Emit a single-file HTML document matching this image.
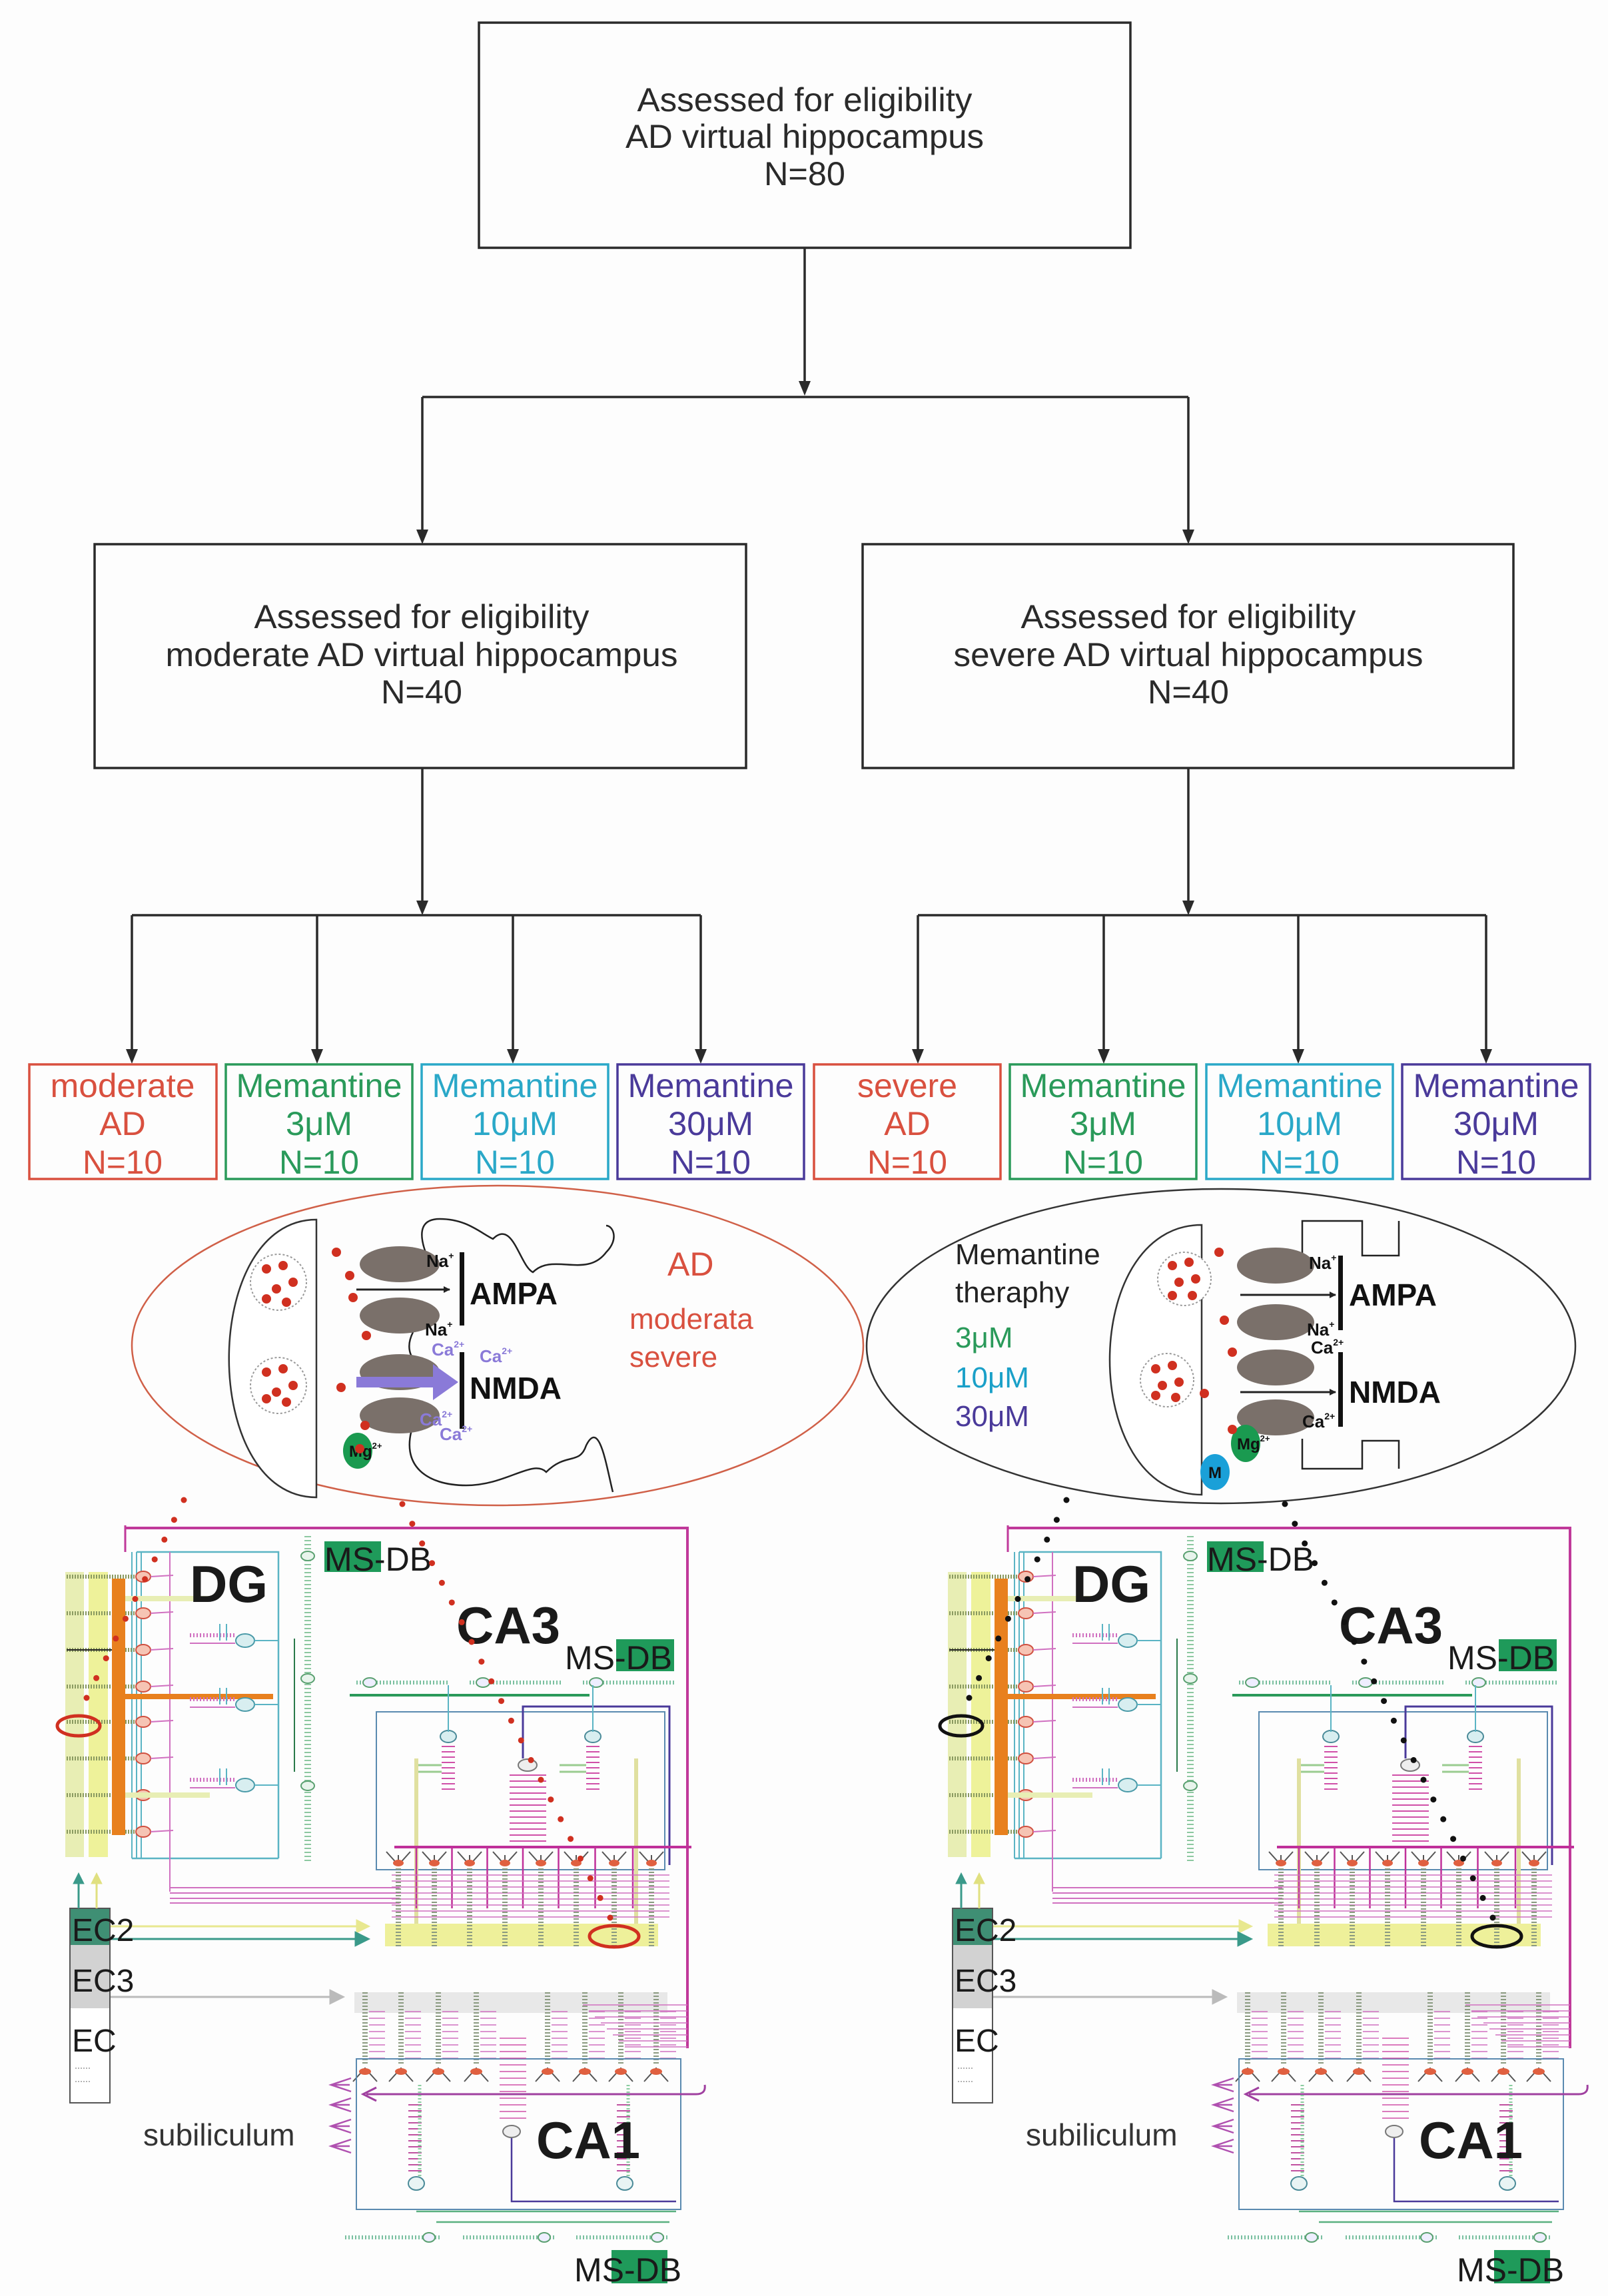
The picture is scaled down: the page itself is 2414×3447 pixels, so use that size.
<!DOCTYPE html>
<html><head><meta charset="utf-8"><style>
html,body{margin:0;padding:0;background:#fdfdfd;}
svg{display:block;}
.ff{font-family:"Liberation Sans",Arial,sans-serif;}
</style></head><body>
<svg id="s" width="2414" height="3447" viewBox="0 0 2414 3447" xmlns="http://www.w3.org/2000/svg" class="ff">
<rect width="2414" height="3447" fill="#fdfdfd"/>
<defs>
<marker id="ah" markerWidth="10" markerHeight="10" refX="9" refY="5" orient="auto" markerUnits="userSpaceOnUse"><path d="M0,0 L10,5 L0,10 Z" fill="#222"/></marker>
</defs>
<g id="flow" stroke="#2a2a2a" stroke-width="3.5" fill="none">
<rect x="719" y="34" width="978" height="338"/>
<rect x="142" y="817" width="978" height="336"/>
<rect x="1295" y="817" width="977" height="336"/>
<path d="M1208,372 V580 M634,596 H1784 M634,596 V800 M1784,596 V800 M634,1153 V1362 M1784,1153 V1362 M198,1374 H1052 M1378,1374 H2231 M198,1374 V1582 M476,1374 V1582 M770,1374 V1582 M1052,1374 V1582 M1378,1374 V1582 M1657,1374 V1582 M1949,1374 V1582 M2231,1374 V1582"/>
</g>
<g fill="#2a2a2a">
<path d="M1199,572 L1217,572 L1208,594 Z"/>
<path d="M625,795 L643,795 L634,817 Z"/><path d="M1775,795 L1793,795 L1784,817 Z"/>
<path d="M625,1352 L643,1352 L634,1374 Z"/><path d="M1775,1352 L1793,1352 L1784,1374 Z"/>
<path d="M189,1575 L207,1575 L198,1597 Z"/><path d="M467,1575 L485,1575 L476,1597 Z"/><path d="M761,1575 L779,1575 L770,1597 Z"/><path d="M1043,1575 L1061,1575 L1052,1597 Z"/>
<path d="M1369,1575 L1387,1575 L1378,1597 Z"/><path d="M1648,1575 L1666,1575 L1657,1597 Z"/><path d="M1940,1575 L1958,1575 L1949,1597 Z"/><path d="M2222,1575 L2240,1575 L2231,1597 Z"/>
</g>
<g font-size="50" fill="#2a2a2a" text-anchor="middle">
<text x="1208" y="167" textLength="503" lengthAdjust="spacingAndGlyphs">Assessed for eligibility</text>
<text x="1208" y="222" textLength="538" lengthAdjust="spacingAndGlyphs">AD virtual hippocampus</text>
<text x="1208" y="278" textLength="122" lengthAdjust="spacingAndGlyphs">N=80</text>
<text x="633" y="943" textLength="503" lengthAdjust="spacingAndGlyphs">Assessed for eligibility</text>
<text x="633" y="1000" textLength="769" lengthAdjust="spacingAndGlyphs">moderate AD virtual hippocampus</text>
<text x="633" y="1056" textLength="122" lengthAdjust="spacingAndGlyphs">N=40</text>
<text x="1784" y="943" textLength="503" lengthAdjust="spacingAndGlyphs">Assessed for eligibility</text>
<text x="1784" y="1000" textLength="705" lengthAdjust="spacingAndGlyphs">severe AD virtual hippocampus</text>
<text x="1784" y="1056" textLength="122" lengthAdjust="spacingAndGlyphs">N=40</text>
</g>
<g stroke-width="3.5" fill="none">
<rect x="44" y="1598" width="281" height="172" stroke="#d9503f"/>
<rect x="339" y="1598" width="280" height="172" stroke="#2a9a5a"/>
<rect x="633" y="1598" width="280" height="172" stroke="#2aa8c8"/>
<rect x="927" y="1598" width="280" height="172" stroke="#4a3a9a"/>
<rect x="1222" y="1598" width="280" height="172" stroke="#d9503f"/>
<rect x="1516" y="1598" width="280" height="172" stroke="#2a9a5a"/>
<rect x="1811" y="1598" width="280" height="172" stroke="#2aa8c8"/>
<rect x="2105" y="1598" width="282" height="172" stroke="#4a3a9a"/>
</g>
<g font-size="50" text-anchor="middle">
<g fill="#d9503f"><text x="184" y="1647" textLength="217" lengthAdjust="spacingAndGlyphs">moderate</text><text x="184" y="1704">AD</text><text x="184" y="1762" textLength="120" lengthAdjust="spacingAndGlyphs">N=10</text></g>
<g fill="#2a9a5a"><text x="479" y="1647" textLength="249" lengthAdjust="spacingAndGlyphs">Memantine</text><text x="479" y="1704" textLength="100" lengthAdjust="spacingAndGlyphs">3μM</text><text x="479" y="1762" textLength="120" lengthAdjust="spacingAndGlyphs">N=10</text></g>
<g fill="#2aa8c8"><text x="773" y="1647" textLength="249" lengthAdjust="spacingAndGlyphs">Memantine</text><text x="773" y="1704" textLength="128" lengthAdjust="spacingAndGlyphs">10μM</text><text x="773" y="1762" textLength="120" lengthAdjust="spacingAndGlyphs">N=10</text></g>
<g fill="#4a3a9a"><text x="1067" y="1647" textLength="249" lengthAdjust="spacingAndGlyphs">Memantine</text><text x="1067" y="1704" textLength="128" lengthAdjust="spacingAndGlyphs">30μM</text><text x="1067" y="1762" textLength="120" lengthAdjust="spacingAndGlyphs">N=10</text></g>
<g fill="#d9503f"><text x="1362" y="1647" textLength="150" lengthAdjust="spacingAndGlyphs">severe</text><text x="1362" y="1704">AD</text><text x="1362" y="1762" textLength="120" lengthAdjust="spacingAndGlyphs">N=10</text></g>
<g fill="#2a9a5a"><text x="1656" y="1647" textLength="249" lengthAdjust="spacingAndGlyphs">Memantine</text><text x="1656" y="1704" textLength="100" lengthAdjust="spacingAndGlyphs">3μM</text><text x="1656" y="1762" textLength="120" lengthAdjust="spacingAndGlyphs">N=10</text></g>
<g fill="#2aa8c8"><text x="1951" y="1647" textLength="249" lengthAdjust="spacingAndGlyphs">Memantine</text><text x="1951" y="1704" textLength="128" lengthAdjust="spacingAndGlyphs">10μM</text><text x="1951" y="1762" textLength="120" lengthAdjust="spacingAndGlyphs">N=10</text></g>
<g fill="#4a3a9a"><text x="2246" y="1647" textLength="249" lengthAdjust="spacingAndGlyphs">Memantine</text><text x="2246" y="1704" textLength="128" lengthAdjust="spacingAndGlyphs">30μM</text><text x="2246" y="1762" textLength="120" lengthAdjust="spacingAndGlyphs">N=10</text></g>
</g>

<!-- Left ellipse (AD) -->
<ellipse cx="747" cy="2020" rx="549" ry="240" fill="none" stroke="#d06048" stroke-width="2.5"/>
<path d="M475,1831 C300,1831 300,2248 475,2248 Z" fill="#fff" stroke="#333" stroke-width="2.5"/>
<circle cx="418" cy="1925" r="42" fill="#fff" stroke="#999" stroke-dasharray="3 3" stroke-width="2"/>
<circle cx="418" cy="2080" r="42" fill="#fff" stroke="#999" stroke-dasharray="3 3" stroke-width="2"/>
<path d="M645,1895 C620,1840 640,1830 660,1830 C700,1830 720,1850 740,1860 C770,1830 780,1900 800,1910 C830,1880 880,1920 910,1880 C930,1860 920,1840 910,1840" fill="none" stroke="#222" stroke-width="2.5"/>
<path d="M620,2000 C600,2040 640,2050 630,2070" fill="none" stroke="#222" stroke-width="2.5"/>
<path d="M620,2140 C600,2200 640,2230 700,2230 C760,2230 800,2190 820,2210 C850,2180 870,2200 880,2170 C900,2130 910,2200 920,2240" fill="none" stroke="#222" stroke-width="2.5"/>
<g fill="#7a706a"><ellipse cx="600" cy="1898" rx="60" ry="27"/><ellipse cx="600" cy="1975" rx="60" ry="27"/><ellipse cx="600" cy="2060" rx="60" ry="27"/><ellipse cx="600" cy="2125" rx="60" ry="27"/></g>
<path d="M535,1936 H675" stroke="#222" stroke-width="3" marker-end="url(#ah)"/>
<path d="M535,2075 H660" stroke="#8a7ad8" stroke-width="16"/><path d="M650,2048 L688,2075 L650,2102 Z" fill="#8a7ad8"/>
<rect x="690" y="1880" width="7" height="110" fill="#111"/><rect x="690" y="2030" width="7" height="115" fill="#111"/>
<g font-weight="bold" fill="#111"><text x="705" y="1958" font-size="46">AMPA</text><text x="705" y="2100" font-size="46">NMDA</text>
<text x="640" y="1902" font-size="26">Na<tspan font-size="14" dy="-12">+</tspan></text><text x="638" y="2005" font-size="26">Na<tspan font-size="14" dy="-12">+</tspan></text></g>
<g font-weight="bold" fill="#8a7ad8" font-size="26"><text x="648" y="2035">Ca<tspan font-size="14" dy="-12">2+</tspan></text><text x="720" y="2045">Ca<tspan font-size="14" dy="-12">2+</tspan></text><text x="630" y="2140">Ca<tspan font-size="14" dy="-12">2+</tspan></text><text x="660" y="2162">Ca<tspan font-size="14" dy="-12">2+</tspan></text></g>
<ellipse cx="537" cy="2178" rx="22" ry="27" fill="#1a9a50"/>
<text x="524" y="2187" font-size="24" font-weight="bold" fill="#111">Mg<tspan font-size="13" dy="-12">2+</tspan></text>
<g fill="#d9503f" font-size="50"><text x="1002" y="1915">AD</text><text x="945" y="1995" font-size="44">moderata</text><text x="945" y="2052" font-size="44">severe</text></g>

<!-- Right ellipse (Memantine) -->
<ellipse cx="1833" cy="2021" rx="532" ry="236" fill="none" stroke="#333" stroke-width="2.5"/>
<path d="M1804,1839 C1620,1839 1620,2244 1804,2244 Z" fill="#fff" stroke="#333" stroke-width="2.5"/>
<circle cx="1778" cy="1920" r="40" fill="#fff" stroke="#999" stroke-dasharray="3 3" stroke-width="2"/>
<circle cx="1752" cy="2072" r="40" fill="#fff" stroke="#999" stroke-dasharray="3 3" stroke-width="2"/>
<path d="M1955,1890 V1833 H2045 V1885 H2100 V1833 M1955,2160 V2205 H2045 V2163 H2100 V2205" fill="none" stroke="#222" stroke-width="2.5"/>
<g fill="#7a706a"><ellipse cx="1915" cy="1900" rx="58" ry="27"/><ellipse cx="1915" cy="1985" rx="58" ry="27"/><ellipse cx="1915" cy="2053" rx="58" ry="27"/><ellipse cx="1915" cy="2128" rx="58" ry="27"/></g>
<path d="M1862,1944 H2005" stroke="#222" stroke-width="3" marker-end="url(#ah)"/>
<path d="M1862,2090 H2005" stroke="#222" stroke-width="3" marker-end="url(#ah)"/>
<rect x="2009" y="1885" width="7" height="112" fill="#111"/><rect x="2009" y="2030" width="7" height="112" fill="#111"/>
<g font-weight="bold" fill="#111"><text x="2025" y="1960" font-size="46">AMPA</text><text x="2025" y="2106" font-size="46">NMDA</text>
<text x="1965" y="1905" font-size="26">Na<tspan font-size="14" dy="-12">+</tspan></text><text x="1962" y="2005" font-size="26">Na<tspan font-size="14" dy="-12">+</tspan></text>
<text x="1968" y="2032" font-size="26">Ca<tspan font-size="14" dy="-12">2+</tspan></text><text x="1955" y="2143" font-size="26">Ca<tspan font-size="14" dy="-12">2+</tspan></text></g>
<ellipse cx="1870" cy="2167" rx="22" ry="28" fill="#1a9a50"/>
<text x="1857" y="2176" font-size="24" font-weight="bold" fill="#111">Mg<tspan font-size="13" dy="-12">2+</tspan></text>
<ellipse cx="1824" cy="2210" rx="22" ry="27" fill="#1aa0d8"/>
<text x="1814" y="2219" font-size="24" font-weight="bold" fill="#111">M</text>
<g font-size="44"><text x="1434" y="1898" fill="#222">Memantine</text><text x="1434" y="1955" fill="#222">theraphy</text>
<text x="1434" y="2023" fill="#2a9a5a">3μM</text><text x="1434" y="2083" fill="#1aa0c8">10μM</text><text x="1434" y="2141" fill="#4a3a9a">30μM</text></g>

<g id="diagL"></g>
<g id="diagR"></g>

<g>
<rect x="487" y="2314" width="85" height="46" fill="#1f9a5a"/>
<rect x="925" y="2461" width="87" height="48" fill="#1f9a5a"/>
<rect x="918" y="3378" width="84" height="50" fill="#1f9a5a"/>
<rect x="1812" y="2314" width="85" height="46" fill="#1f9a5a"/>
<rect x="2250" y="2461" width="87" height="48" fill="#1f9a5a"/>
<rect x="2243" y="3378" width="84" height="50" fill="#1f9a5a"/>
</g>
<g fill="#1a1a1a">
<text x="285" y="2405" font-size="78" font-weight="bold">DG</text>
<text x="487" y="2358" font-size="50">MS-DB</text>
<text x="685" y="2467" font-size="78" font-weight="bold">CA3</text>
<text x="848" y="2506" font-size="50">MS-DB</text>
<text x="108" y="2914" font-size="48">EC2</text>
<text x="108" y="2990" font-size="48">EC3</text>
<text x="108" y="3080" font-size="48">EC</text>
<text x="215" y="3221" font-size="46" fill="#333">subiliculum</text>
<text x="805" y="3240" font-size="78" font-weight="bold">CA1</text>
<text x="862" y="3425" font-size="50">MS-DB</text>

<text x="1610" y="2405" font-size="78" font-weight="bold">DG</text>
<text x="1812" y="2358" font-size="50">MS-DB</text>
<text x="2010" y="2467" font-size="78" font-weight="bold">CA3</text>
<text x="2173" y="2506" font-size="50">MS-DB</text>
<text x="1433" y="2914" font-size="48">EC2</text>
<text x="1433" y="2990" font-size="48">EC3</text>
<text x="1433" y="3080" font-size="48">EC</text>
<text x="1540" y="3221" font-size="46" fill="#333">subiliculum</text>
<text x="2130" y="3240" font-size="78" font-weight="bold">CA1</text>
<text x="2187" y="3425" font-size="50">MS-DB</text>
</g>
<g id="dots"></g>
</svg>
<script>
(function(){
var NS="http://www.w3.org/2000/svg";
function el(p,t,a){var e=document.createElementNS(NS,t);for(var k in a)e.setAttribute(k,a[k]);p.appendChild(e);return e;}
function diag(g,dx){
 var L=function(x1,y1,x2,y2,c,w,da){var a={x1:x1+dx,y1:y1,x2:x2+dx,y2:y2,stroke:c,"stroke-width":w||2};if(da)a["stroke-dasharray"]=da;return el(g,"line",a);};
 var R=function(x,y,w,h,f,s){var a={x:x+dx,y:y,width:w,height:h,fill:f};if(s){a.stroke=s;a["stroke-width"]=2;}return el(g,"rect",a);};
 var E=function(cx,cy,rx,ry,f,s){return el(g,"ellipse",{cx:cx+dx,cy:cy,rx:rx,ry:ry,fill:f,stroke:s||"none","stroke-width":2});};
 var P=function(d,c,w,f){return el(g,"path",{d:d,stroke:c,"stroke-width":w||2,fill:f||"none",transform:"translate("+dx+",0)"});};
 R(1423,2360,28,428,"#e8eeb4");R(1458,2360,29,428,"#eef29a");
 P("M1513,2294 H2357 V3075","#c0399a",4);
 L(1513,2290,1513,2330,"#c0399a",3);
 [1523,1530,1537].forEach(function(x){L(x,2330,x,2790,"#5ab4c4",2);});
 P("M1530,2330 H1743 V2790 M1523,2790 H1743","#5ab4c4",2.5);
 L(1580,2330,1580,2840,"#d070c0",2);
 var rows=[2367,2422,2477,2532,2585,2640,2695,2750];
 rows.forEach(function(y){L(1425,y,1530,y,"#8a9a60",6,"2 2");E(1540,y,11,8,"#f6c4b4","#d05040");L(1551,y,1585,y-2,"#d070c0",2);});
 L(1425,2477,1500,2477,"#222",2);
 R(1493,2370,20,385,"#e8801e");R(1513,2543,222,8,"#e8801e");
 L(1513,2400,1640,2400,"#e8eeb4",8);L(1513,2695,1640,2695,"#e8eeb4",8);
 [2463,2559,2680].forEach(function(y){E(1693,y,14,10,"#d8eef0","#4a9aa8");L(1610,y-8,1678,y-8,"#d070c0",6,"2 3");L(1610,y+4,1678,y+4,"#d070c0",2);L(1655,y-25,1655,y,"#5ab4c4",2);L(1665,y-25,1665,y,"#5ab4c4",2);L(1707,y,1743,y,"#5ab4c4",2);});
 L(1787,2306,1787,2796,"#8cc8a0",10,"2 4");
 [2336,2520,2681].forEach(function(y){E(1787,y,10,7,"#e8f4ec","#5aa070");});
 L(1767,2460,1767,2660,"#2a7a4a",2);
 [2834,2842,2850,2857].forEach(function(y){L(1580,y,1925,y,"#d070c0",2);});
 [[1860,2000,1880],[2030,2170,2050],[2200,2340,2220]].forEach(function(a){L(a[0],2526,a[1],2526,"#7ac0a0",6,"2 3");E(a[2],2526,10,7,"#eef","#5aa070");});
 L(1850,2545,2210,2545,"#2a9a5a",4);
 R(1890,2570,433,237,"none","#5a8ab0");
 P("M2110,2640 V2562 H2330 V2800","#4a3a9a",3);
 [1998,2215].forEach(function(x){E(x,2607,12,9,"#d8eef0","#4a8a98");for(var y=2622;y<2690;y+=8)L(x-10,y,x+10,y,"#d050a8",2);L(x,2530,x,2600,"#5ab4c4",2);L(x-50,2650,x-10,2650,"#9acc90",3);L(x-50,2660,x-10,2660,"#9acc90",3);});
 E(2117,2650,14,9,"#eee","#777");
 for(var y=2665;y<2765;y+=9)L(2090,y,2145,y,"#d050a8",2);
 L(1950,2640,1950,2888,"#e0e0a0",6);L(2280,2640,2280,2888,"#e0e0a0",6);
 L(1917,2773,2363,2773,"#c0309a",4);
 var c3=[1923,1977,2030,2083,2137,2190,2247,2303];
 for(var i=0;i<c3.length-1;i++){L((c3[i]+c3[i+1])/2,2773,(c3[i]+c3[i+1])/2,2865,"#c0309a",2.5);}
 for(var y=2815;y<2885;y+=9)L(1913,y,2330,y,"#d070c0",1.5);
 R(1903,2888,410,34,"#eef09a");
 c3.forEach(function(x){L(x,2805,x,2922,"#8a9a80",8,"2 3");P("M"+(x-18)+",2780 L"+x+",2800 L"+(x+18)+",2780 M"+x+",2800 V2785","#555",2);E(x,2797,8,5,"#e06040");});
 P("M1490,2892 H1860","#e8e890",3);P("M1860,2882 L1880,2892 L1860,2902 Z","#e8e890",1,"#e8e890");
 P("M1490,2911 H1860","#3a9a8a",3);P("M1858,2900 L1880,2911 L1858,2922 Z","#3a9a8a",1,"#3a9a8a");
 P("M1490,2998 H1822","#bbb",3);P("M1820,2987 L1842,2998 L1820,3009 Z","#bbb",1,"#bbb");
 R(1430,2865,60,55,"#3f8f74");R(1430,2920,60,95,"#d2d2d2");R(1430,3015,60,142,"#fff");
 P("M1430,2865 H1490 V3157 H1430 Z","#555",2);
 L(1438,3105,1460,3105,"#999",1.5,"2 2");L(1438,3125,1460,3125,"#999",1.5,"2 2");
 P("M1443,2865 V2825","#3a9a8a",3);P("M1435,2828 L1443,2812 L1451,2828 Z","#3a9a8a",1,"#3a9a8a");
 P("M1470,2865 V2825","#e0e080",3);P("M1462,2828 L1470,2812 L1478,2828 Z","#e0e080",1,"#e0e080");
 R(1857,2991,470,31,"#e8e8e8");
 var c1=[1873,1927,1983,2040,2147,2203,2257,2310];
 c1.forEach(function(x){L(x,2991,x,3100,"#8a9a80",8,"2 3");for(var y=3020;y<3095;y+=10)L(x+6,y,x+30,y,"#d070c0",1.5);P("M"+(x-18)+",3125 L"+x+",3105 L"+(x+18)+",3125","#555",2);E(x,3110,9,5,"#e06040");});
 for(var y=3010;y<3075;y+=9)L(2200+(y-3010),y,2357,y,"#d070c0",1.5);
 R(1860,3091,487,226,"none","#5a8ab0");
 P("M2383,3130 Q2385,3144 2370,3144 H1875","#a040a0",3);P("M1890,3134 L1870,3144 L1890,3154","#a040a0",3);
 [3130,3160,3192,3222].forEach(function(y){P("M1852,"+(y-10)+" L1822,"+y+" L1852,"+(y+10)+" M1822,"+y+" H1850","#b050b0",2.5);});
 E(2093,3200,13,9,"#eee","#777");for(var y=3060;y<3185;y+=10)L(2075,y,2115,y,"#d050a8",1.5);
 P("M2093,3210 V3305 H2340","#4a3a9a",2.5);
 [1950,2263].forEach(function(x){E(x,3278,12,10,"#e8f4f4","#4a8a98");for(var y=3160;y<3260;y+=9)L(x-12,y,x+8,y,"#c050a0",2);L(x+5,3130,x+5,3270,"#8acca0",5,"2 3");});
 L(1950,3320,2340,3320,"#5ab080",2.5);L(1980,3336,2330,3336,"#5ab080",2.5);
 [[1843,1987],[2020,2160],[2190,2330]].forEach(function(a){L(a[0],3359,a[1],3359,"#7ac0a0",6,"2 3");E(a[1]-18,3359,9,7,"#eef","#5aa070");});
}
diag(document.getElementById("diagR"),0);
diag(document.getElementById("diagL"),-1325);
var d=document.getElementById("dots");
function dots(x1,y1,x2,y2,n,c,r,dx){for(var i=0;i<=n;i++){el(d,"circle",{cx:x1+(x2-x1)*i/n+dx,cy:y1+(y2-y1)*i/n,r:r,fill:c});}}
dots(1601,2252,1455,2549,10,"#111",4.5,0);dots(1929,2258,2241,2879,21,"#111",4.5,0);
el(d,"ellipse",{cx:1443,cy:2591,rx:32,ry:15,fill:"none",stroke:"#111","stroke-width":5});
el(d,"ellipse",{cx:2247,cy:2907,rx:37,ry:16,fill:"none",stroke:"#111","stroke-width":5});
dots(1601,2252,1455,2549,10,"#d03020",4.5,-1325);dots(1929,2258,2241,2879,21,"#d03020",4.5,-1325);
el(d,"ellipse",{cx:118,cy:2591,rx:32,ry:15,fill:"none",stroke:"#d03020","stroke-width":5});
el(d,"ellipse",{cx:922,cy:2907,rx:37,ry:16,fill:"none",stroke:"#d03020","stroke-width":5});
[[505,1880],[525,1915],[530,1948],[550,2005],[512,2083],[548,2140],[540,2175],[1830,1880],[1838,1982],[1808,2092],[1850,2030],[1850,2146]].forEach(function(p){el(d,"circle",{cx:p[0],cy:p[1],r:7,fill:"#d03020"});});
[[400,1905],[425,1900],[440,1925],[415,1935],[400,1950],[430,1955],[400,2060],[425,2055],[440,2080],[415,2090],[400,2100],[430,2105],
 [1760,1900],[1785,1895],[1795,1920],[1770,1925],[1760,1945],[1790,1945],[1735,2055],[1760,2050],[1770,2075],[1745,2080],[1735,2095],[1765,2098]].forEach(function(p){el(d,"circle",{cx:p[0],cy:p[1],r:7,fill:"#d03020"});});
})();
</script>
</body></html>
